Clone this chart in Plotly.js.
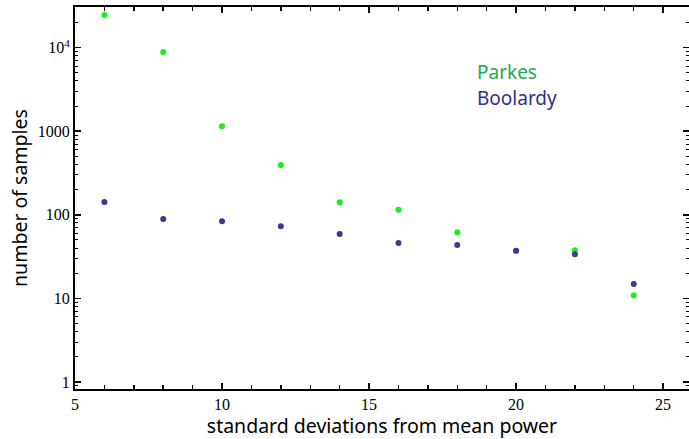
<!DOCTYPE html>
<html>
<head>
<meta charset="utf-8">
<script src="https://cdn.plot.ly/plotly-3.0.1.min.js"></script>
<style>html,body{margin:0;padding:0;background:#fff;}#chart{width:689px;height:439px;}</style>
</head>
<body>
<div id="chart"></div>
<script>
var sigma = [6, 8, 10, 12, 14, 16, 18, 20, 22, 24];
var parkes = [24500, 8850, 1150, 394, 141, 115, 62, 37, 37.6, 10.9];
var boolardy = [142, 89, 84, 73, 59, 46, 43.5, 37.2, 33.7, 14.9];
var yTickVals = [1, 10, 100, 1000, 10000];
var yTickText = ['1', '10', '100', '1000', '10<sup>4</sup>'];
var xTickVals = [5, 10, 15, 20, 25];

var traces = [
  {x: sigma, y: parkes, mode: 'markers', type: 'scatter', name: 'Parkes',
   marker: {color: '#19f019', size: 6}},
  {x: sigma, y: boolardy, mode: 'markers', type: 'scatter', name: 'Boolardy',
   marker: {color: '#3b3b96', size: 6}}
];

var tickFont = {family: 'Liberation Serif, Times New Roman, serif', size: 16, color: '#000'};
var titleFont = {family: 'Noto Sans, Open Sans, sans-serif', size: 19.5, color: '#000'};

var layout = {
  width: 689, height: 439,
  margin: {l: 75, r: 0, t: 7, b: 50},
  paper_bgcolor: '#fff', plot_bgcolor: '#fff',
  showlegend: false,
  xaxis: {
    range: [5, 25.88], showgrid: false, zeroline: false,
    showline: true, linecolor: '#000', linewidth: 2, mirror: 'ticks',
    ticks: 'inside', ticklen: 6, tickwidth: 1.5, tickcolor: '#000',
    tickvals: xTickVals, ticktext: xTickVals.map(String),
    minor: {ticks: 'inside', ticklen: 4, tickwidth: 1.5, tickcolor: '#000', dtick: 1, tick0: 5, showgrid: false},
    tickfont: tickFont,
    title: {text: 'standard deviations from mean power', font: titleFont, standoff: 6}
  },
  yaxis: {
    type: 'log', range: [-0.084, 4.486], showgrid: false, zeroline: false,
    showline: true, linecolor: '#000', linewidth: 2, mirror: 'ticks',
    ticks: 'inside', ticklen: 6, tickwidth: 1.5, tickcolor: '#000',
    tickvals: yTickVals, ticktext: yTickText,
    minor: {ticks: 'inside', ticklen: 3, tickwidth: 1, tickcolor: '#000', dtick: 'D1', showgrid: false},
    tickfont: tickFont,
    title: {text: 'number of samples', font: titleFont, standoff: 5}
  },
  annotations: [
    {xref: 'paper', yref: 'paper', x: 0.652, y: 0.83, xanchor: 'left', yanchor: 'middle',
     text: 'Parkes', showarrow: false, font: {family: 'Noto Sans, Open Sans, sans-serif', size: 19, color: '#1fa84f'}},
    {xref: 'paper', yref: 'paper', x: 0.652, y: 0.762, xanchor: 'left', yanchor: 'middle',
     text: 'Boolardy', showarrow: false, font: {family: 'Noto Sans, Open Sans, sans-serif', size: 19, color: '#2e3192'}}
  ]
};

Plotly.newPlot('chart', traces, layout, {displayModeBar: false, staticPlot: true});
</script>
</body>
</html>
